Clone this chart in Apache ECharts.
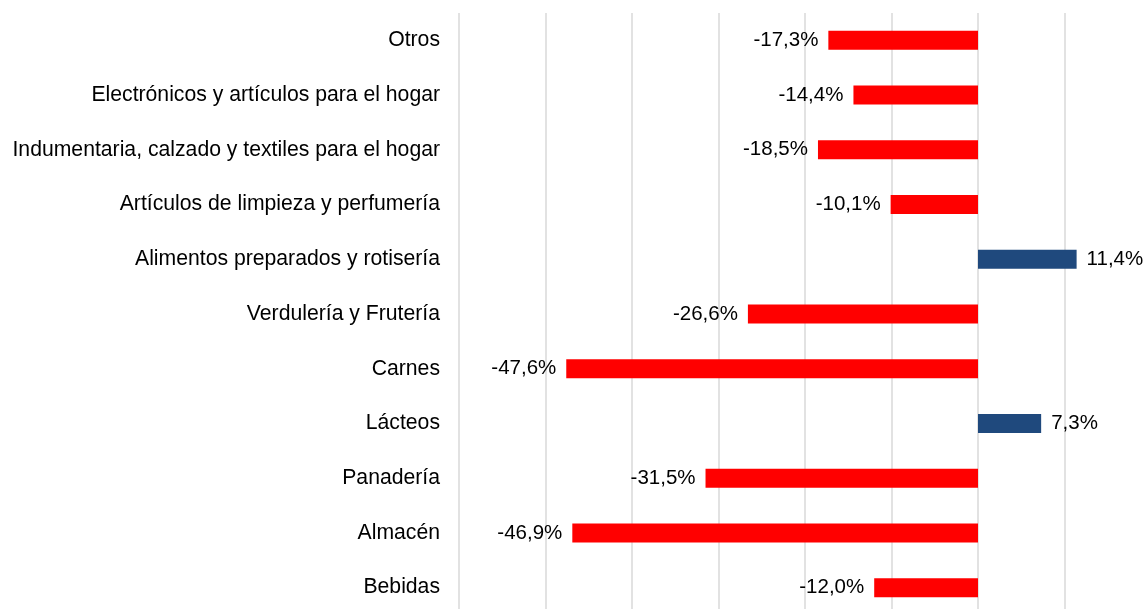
<!DOCTYPE html>
<html>
<head>
<meta charset="utf-8">
<script src="https://cdn.jsdelivr.net/npm/echarts@6/dist/echarts.min.js"></script>
<style>
  html, body { margin: 0; padding: 0; background: #fff; overflow: hidden; }
  /* the plot runs a little past the right and bottom edges, as in the original */
  #chart { width: 1151px; height: 615px; }
</style>
</head>
<body>
<div id="chart"></div>
<script>
// categories listed bottom to top (category axis starts at the bottom)
var categories = ['Bebidas', 'Almacén', 'Panadería', 'Lácteos', 'Carnes', 'Verdulería y Frutería',
  'Alimentos preparados y rotisería', 'Artículos de limpieza y perfumería',
  'Indumentaria, calzado y textiles para el hogar', 'Electrónicos y artículos para el hogar', 'Otros'];
var variacion = [-12.0, -46.9, -31.5, 7.3, -47.6, -26.6, 11.4, -10.1, -18.5, -14.4, -17.3];

var chart = echarts.init(document.getElementById('chart'), null, { renderer: 'canvas' });

var font = 'Liberation Sans, Arial, Helvetica, sans-serif';

var option = {
  animation: false,
  grid: {
    left: 459,
    top: 13,
    right: 0,
    bottom: 0,
    containLabel: false
  },
  xAxis: {
    type: 'value',
    min: -60,
    max: 20,
    interval: 10,
    axisLabel: { show: false },
    axisLine: { show: false },
    axisTick: { show: false },
    splitLine: { show: true, lineStyle: { color: '#d9d9d9', width: 1.5 } }
  },
  yAxis: {
    type: 'category',
    data: categories,
    axisLine: { show: false },
    axisTick: { show: false },
    axisLabel: { margin: 19, color: '#000', fontSize: 21.2, fontFamily: font }
  },
  series: [{
    type: 'bar',
    barWidth: 19,
    data: variacion.map(function (v) {
      return {
        value: v,
        itemStyle: { color: v < 0 ? '#ff0000' : '#1f497d' },
        label: { position: v < 0 ? 'left' : 'right' }
      };
    }),
    label: {
      show: true,
      distance: 10,
      color: '#000',
      fontSize: 20.5,
      fontFamily: font,
      formatter: function (p) {
        return p.value.toFixed(1).replace('.', ',') + '%';
      }
    }
  }]
};
chart.setOption(option);
</script>
</body>
</html>
